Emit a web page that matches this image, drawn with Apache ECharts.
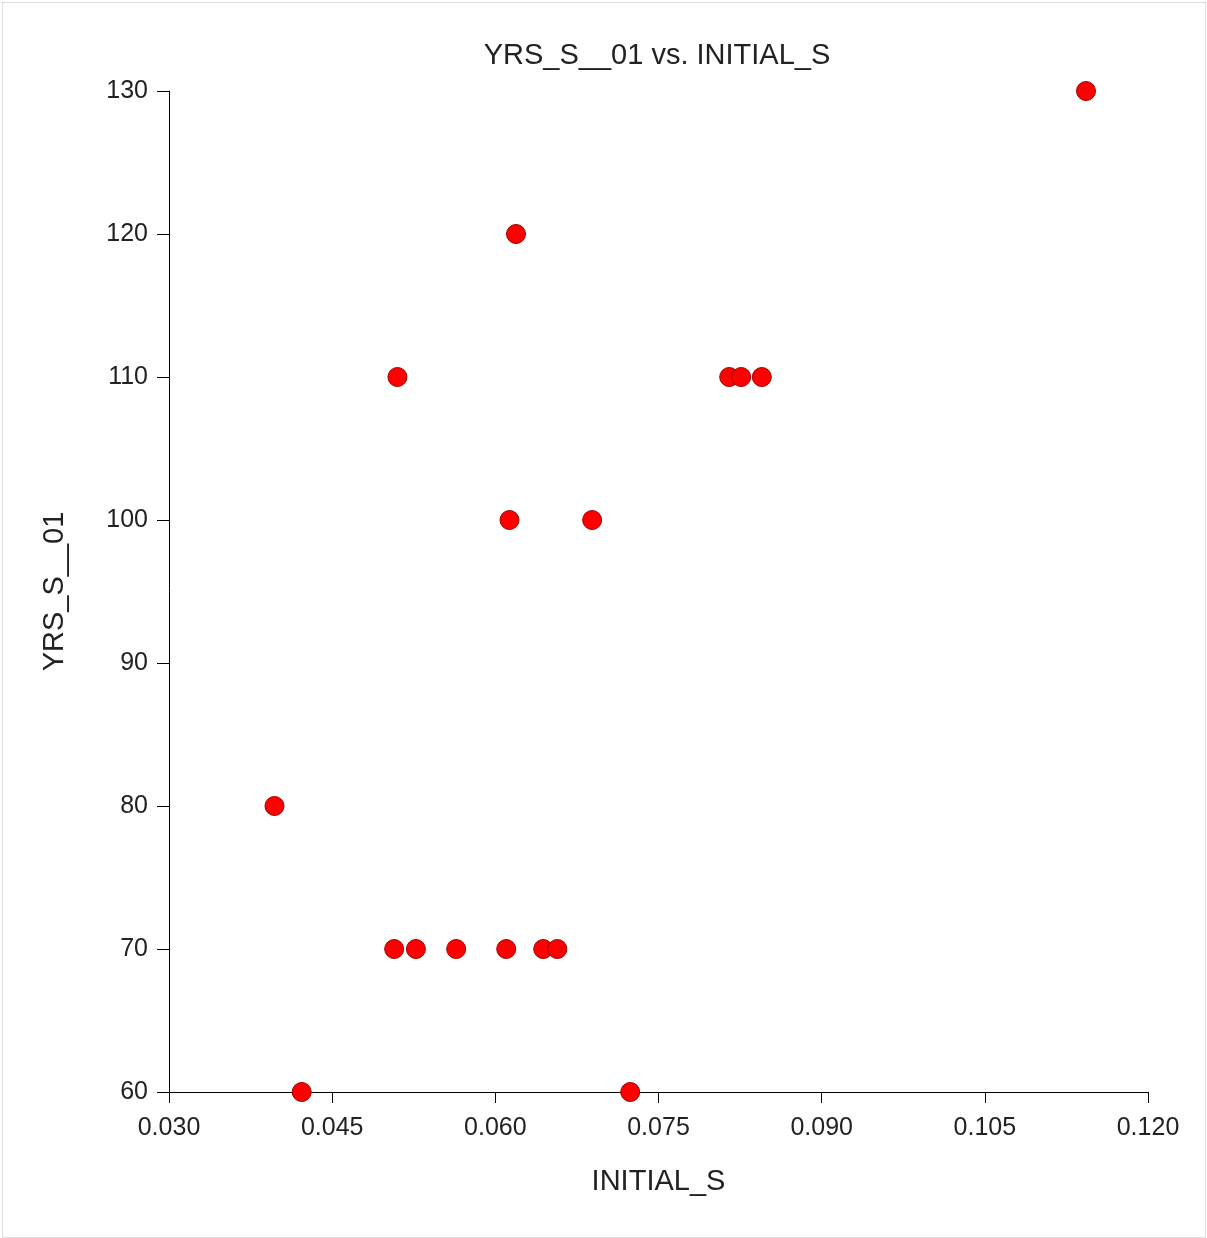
<!DOCTYPE html>
<html>
<head>
<meta charset="utf-8">
<script src="https://cdn.jsdelivr.net/npm/echarts@6/dist/echarts.min.js"></script>
<style>
    html, body { margin: 0; padding: 0; background: #fff; }
    #frame {
        position: absolute; left: 2px; top: 2px; width: 1204px; height: 1236px;
        border: 1px solid #dedede; box-sizing: border-box;
    }
    #chart { position: absolute; left: 0; top: 0; width: 1207px; height: 1238px; }
</style>
</head>
<body>
<div id="frame"></div>
<div id="chart"></div>
<script>
// 데이터 (INITIAL_S, YRS_S__01)
const initialS = [0.1143, 0.0619, 0.0510, 0.0815, 0.0826, 0.0845, 0.0613, 0.0689, 0.0397,
    0.0507, 0.0527, 0.0564, 0.0610, 0.0644, 0.0657, 0.0422, 0.0724];
const yrsS01 = [130, 120, 110, 110, 110, 110, 100, 100, 80,
    70, 70, 70, 70, 70, 70, 60, 60];
const xTicks = [0.030, 0.045, 0.060, 0.075, 0.090, 0.105, 0.120];
const yTicks = [60, 70, 80, 90, 100, 110, 120, 130];

function drawChart() {
    let myChart = echarts.init(document.getElementById('chart'));
    let points = initialS.map((x, i) => [x, yrsS01[i]]);
    const font = 'Arial, "Liberation Sans", sans-serif';

    let option = {
        animation: false,
        title: {
            text: 'YRS_S__01 vs. INITIAL_S',
            left: 652, top: 36, textAlign: 'center',
            textStyle: { fontFamily: font, fontSize: 29, fontWeight: 'normal', color: '#222' }
        },
        grid: { left: 169, right: 59, top: 91, bottom: 146 },
        xAxis: {
            type: 'value',
            min: xTicks[0], max: xTicks[xTicks.length - 1], interval: 0.015,
            name: 'INITIAL_S', nameLocation: 'middle', nameGap: 75,
            nameTextStyle: { fontFamily: font, fontSize: 29, color: '#222' },
            axisLine: { show: true, lineStyle: { color: '#000', width: 1 } },
            axisTick: { show: true, length: 11, lineStyle: { color: '#000' } },
            splitLine: { show: false },
            axisLabel: {
                fontFamily: font, fontSize: 25, color: '#222', margin: 24,
                formatter: v => v.toFixed(3)
            }
        },
        yAxis: {
            type: 'value',
            min: yTicks[0], max: yTicks[yTicks.length - 1], interval: 10,
            name: 'YRS_S__01', nameLocation: 'middle', nameGap: 100,
            nameTextStyle: { fontFamily: font, fontSize: 29, color: '#222' },
            axisLine: { show: true, lineStyle: { color: '#000', width: 1 } },
            axisTick: { show: true, length: 12, lineStyle: { color: '#000' } },
            splitLine: { show: false },
            axisLabel: { fontFamily: font, fontSize: 25, color: '#222', margin: 21 }
        },
        series: [{
            type: 'scatter',
            data: points,
            symbolSize: 19,
            itemStyle: { color: '#ff0000', borderColor: '#9a0000', borderWidth: 1, opacity: 1 }
        }]
    };
    myChart.setOption(option);
}

drawChart();
</script>
</body>
</html>
